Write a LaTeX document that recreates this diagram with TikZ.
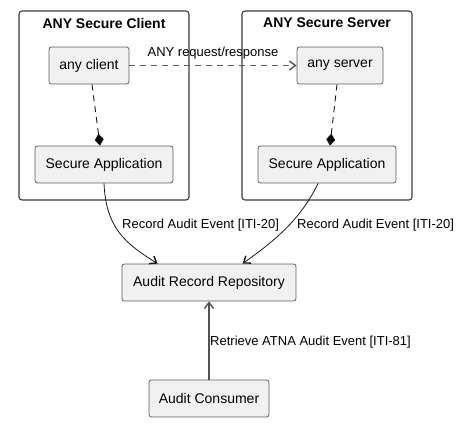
\documentclass[tikz,border=0pt]{standalone}
\usepackage{fontspec}
\setmainfont{Liberation Sans}
\usetikzlibrary{arrows.meta,calc}
\definecolor{boxfill}{HTML}{F1F1F1}
\definecolor{boxline}{HTML}{181818}
\tikzset{
  box/.style={draw=boxline!70, fill=boxfill, rounded corners=2.5pt, line width=0.8pt, inner sep=0pt, font=\fontsize{14}{16}\selectfont},
  frame/.style={draw=boxline!85, rounded corners=3pt, line width=1.1pt},
  ftitle/.style={font=\bfseries\fontsize{14}{16}\selectfont, inner sep=0pt},
  lbl/.style={font=\fontsize{13}{15}\selectfont, inner sep=0pt, text=black},
  arr/.style={draw=boxline, line width=0.8pt, -{Straight Barb[length=6pt,width=9pt,line width=1.4pt]}},
  darr/.style={draw=boxline!70, line width=1.2pt, dash pattern=on 6pt off 5pt, -{Straight Barb[length=6pt,width=9pt,line width=1.5pt]}},
  comp/.style={draw=boxline, line width=0.9pt, dash pattern=on 6pt off 5pt, -{Diamond[length=12pt,width=9pt,fill=black]}}
}
\begin{document}
\begin{tikzpicture}[x=1pt,y=-1pt]
\useasboundingbox (0,0) rectangle (466,428);
% frames
\draw[frame] (19,11) rectangle (189,200);
\draw[frame] (242,11) rectangle (412,200);
\node[ftitle] (tc) at (104,23) {ANY Secure Client};
\node[ftitle] (ts) at (327,23) {ANY Secure Server};
% boxes
\node[box, minimum width=80pt, minimum height=37pt] (ac) at (89,65.5) {any client};
\node[box, minimum width=138pt, minimum height=37pt] (sac) at (104,164.5) {Secure Application};
\node[box, minimum width=86pt, minimum height=37pt] (as) at (340,65.5) {any server};
\node[box, minimum width=138pt, minimum height=37pt] (sas) at (327,164.5) {Secure Application};
\node[box, minimum width=174pt, minimum height=37pt] (arr) at (209,282.5) {Audit Record Repository};
\node[box, minimum width=120pt, minimum height=37pt] (cons) at (209,398.5) {Audit Consumer};
% request/response
\draw[darr] (ac.east) -- (as.west);
\node[lbl] (lreq) at (213,53) {ANY request/response};
% composition
\draw[comp] ([xshift=3pt]ac.south) -- ([xshift=-4pt]sac.north);
\draw[comp] ([xshift=-3pt]as.south) -- ([xshift=3pt]sas.north);
% record audit events
\coordinate (e1) at ([xshift=36pt]arr.north west);
\coordinate (e2) at ([xshift=121pt]arr.north west);
\draw[arr] (sac.south) .. controls +(2,45) and +(-32,-20) .. (e1);
\draw[arr] ([xshift=-9pt]sas.south) .. controls +(-18,38) and +(28,-20) .. (e2);
\node[lbl, anchor=west] (l1) at (122,225) {Record Audit Event [ITI-20]};
\node[lbl, anchor=west] (l2) at (297,225) {Record Audit Event [ITI-20]};
% retrieve
\draw[arr, draw=boxline!75, line width=1.2pt] (cons.north) -- (arr.south);
\node[lbl, anchor=west] (l3) at (210,342) {Retrieve ATNA Audit Event [ITI-81]};
\end{tikzpicture}
\end{document}
